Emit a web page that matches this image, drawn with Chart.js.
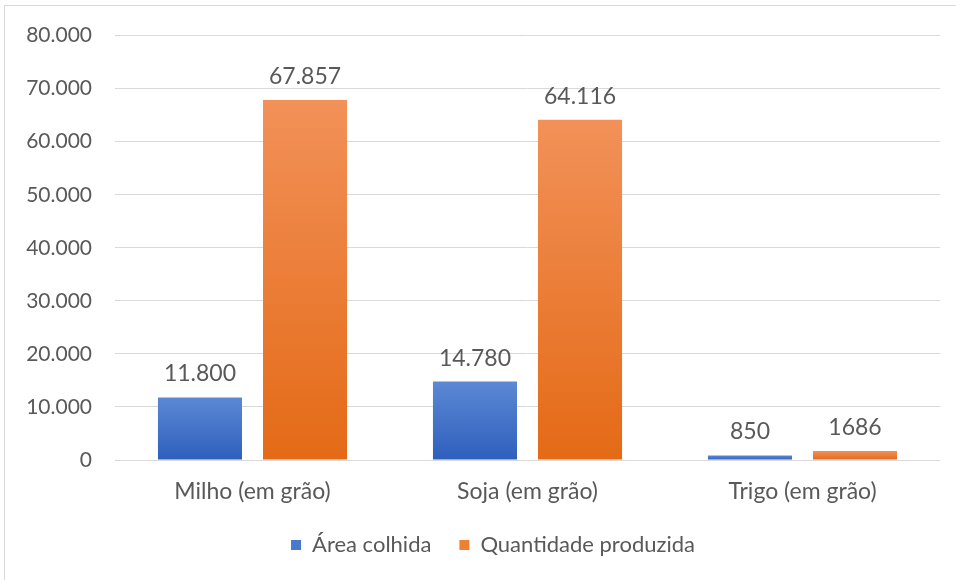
<!DOCTYPE html>
<html>
<head>
<meta charset="utf-8">
<script src="https://cdn.jsdelivr.net/npm/chart.js@4.4.1/dist/chart.umd.min.js"></script>
<style>
  body { margin: 0; background: #fff; }
  #wrap { position: relative; width: 956px; height: 580px; overflow: hidden; }
  #frame { position: absolute; left: 4px; top: 5px; width: 980px; height: 600px; border: 1px solid #d9d9d9; pointer-events: none; }
</style>
</head>
<body>
<div id="wrap">
  <canvas id="chart" width="956" height="580"></canvas>
  <div id="frame"></div>
</div>
<script>
const categories = ['Milho (em grão)', 'Soja (em grão)', 'Trigo (em grão)'];
const areaColhida = [11800, 14780, 850];
const quantidadeProduzida = [67857, 64116, 1686];
const labelsArea = ['11.800', '14.780', '850'];
const labelsQuantidade = ['67.857', '64.116', '1686'];
const yTicks = [0, 10000, 20000, 30000, 40000, 50000, 60000, 70000, 80000];

const FONT = 'Lato';
const TEXT = '#595959';

// each bar gets its own top-to-bottom gradient
function gradient(top, bottom) {
    return function(context) {
        const chart = context.chart;
        const y = chart.scales.y;
        if (!chart.chartArea || !y || context.raw === undefined) return bottom;
        const yTop = y.getPixelForValue(context.raw);
        const yBase = y.getPixelForValue(0);
        if (!isFinite(yTop) || !isFinite(yBase) || yBase - yTop < 1) return bottom;
        const g = chart.ctx.createLinearGradient(0, yTop, 0, yBase);
        g.addColorStop(0, top);
        g.addColorStop(1, bottom);
        return g;
    };
}

// draw the value labels above each bar
const valueLabels = {
    id: 'valueLabels',
    afterLayout(chart) {
        // centre the legend under the plot area instead of the whole canvas
        if (chart.legend) {
            chart.legend.left += 23;
            chart.legend.right += 23;
        }
    },
    afterDatasetsDraw(chart) {
        const ctx = chart.ctx;
        ctx.save();
        ctx.font = '23px ' + FONT;
        ctx.fillStyle = TEXT;
        ctx.textAlign = 'center';
        ctx.textBaseline = 'bottom';
        chart.data.datasets.forEach((ds, i) => {
            chart.getDatasetMeta(i).data.forEach((bar, j) => {
                ctx.fillText(ds.valueLabels[j], bar.x, bar.y - 12);
            });
        });
        ctx.restore();
    }
};

const ctx = document.getElementById('chart');
new Chart(ctx, {
    type: 'bar',
    data: {
        labels: categories,
        datasets: [
            {
                label: 'Área colhida',
                data: areaColhida,
                valueLabels: labelsArea,
                backgroundColor: gradient('#5c88d4', '#2e5fbc'),
                borderWidth: 0,
                categoryPercentage: 0.764,
                barPercentage: 0.8
            },
            {
                label: 'Quantidade produzida',
                data: quantidadeProduzida,
                valueLabels: labelsQuantidade,
                backgroundColor: gradient('#f29159', '#e46a16'),
                borderWidth: 0,
                categoryPercentage: 0.764,
                barPercentage: 0.8
            }
        ]
    },
    options: {
        responsive: false,
        animation: false,
        layout: { padding: { top: 35, right: 16, bottom: 14, left: 0 } },
        plugins: {
            tooltip: { enabled: false },
            legend: {
                position: 'bottom',
                labels: {
                    font: { family: FONT, size: 22 },
                    color: TEXT,
                    boxWidth: 10,
                    boxHeight: 10,
                    padding: 28,
                    generateLabels(chart) {
                        const fills = ['#4a78cc', '#ef7f33'];
                        return chart.data.datasets.map((ds, i) => ({
                            text: ds.label,
                            fillStyle: fills[i],
                            strokeStyle: fills[i],
                            lineWidth: 0,
                            fontColor: TEXT,
                            datasetIndex: i
                        }));
                    }
                }
            }
        },
        scales: {
            x: {
                grid: { display: false },
                border: { display: false },
                ticks: { font: { family: FONT, size: 23 }, color: TEXT, padding: 10 },
                afterFit(scale) { scale.height = 46; }
            },
            y: {
                min: 0,
                max: 80000,
                afterBuildTicks(scale) { scale.ticks = yTicks.map(v => ({ value: v })); },
                afterFit(scale) { scale.width = 115; },
                grid: { color: '#d9d9d9', lineWidth: 1, drawTicks: false },
                border: { display: false },
                ticks: {
                    font: { family: FONT, size: 21 },
                    color: TEXT,
                    padding: 23,
                    callback: v => v === 0 ? '0' : v.toLocaleString('pt-BR')
                }
            }
        }
    },
    plugins: [valueLabels]
});
</script>
</body>
</html>
